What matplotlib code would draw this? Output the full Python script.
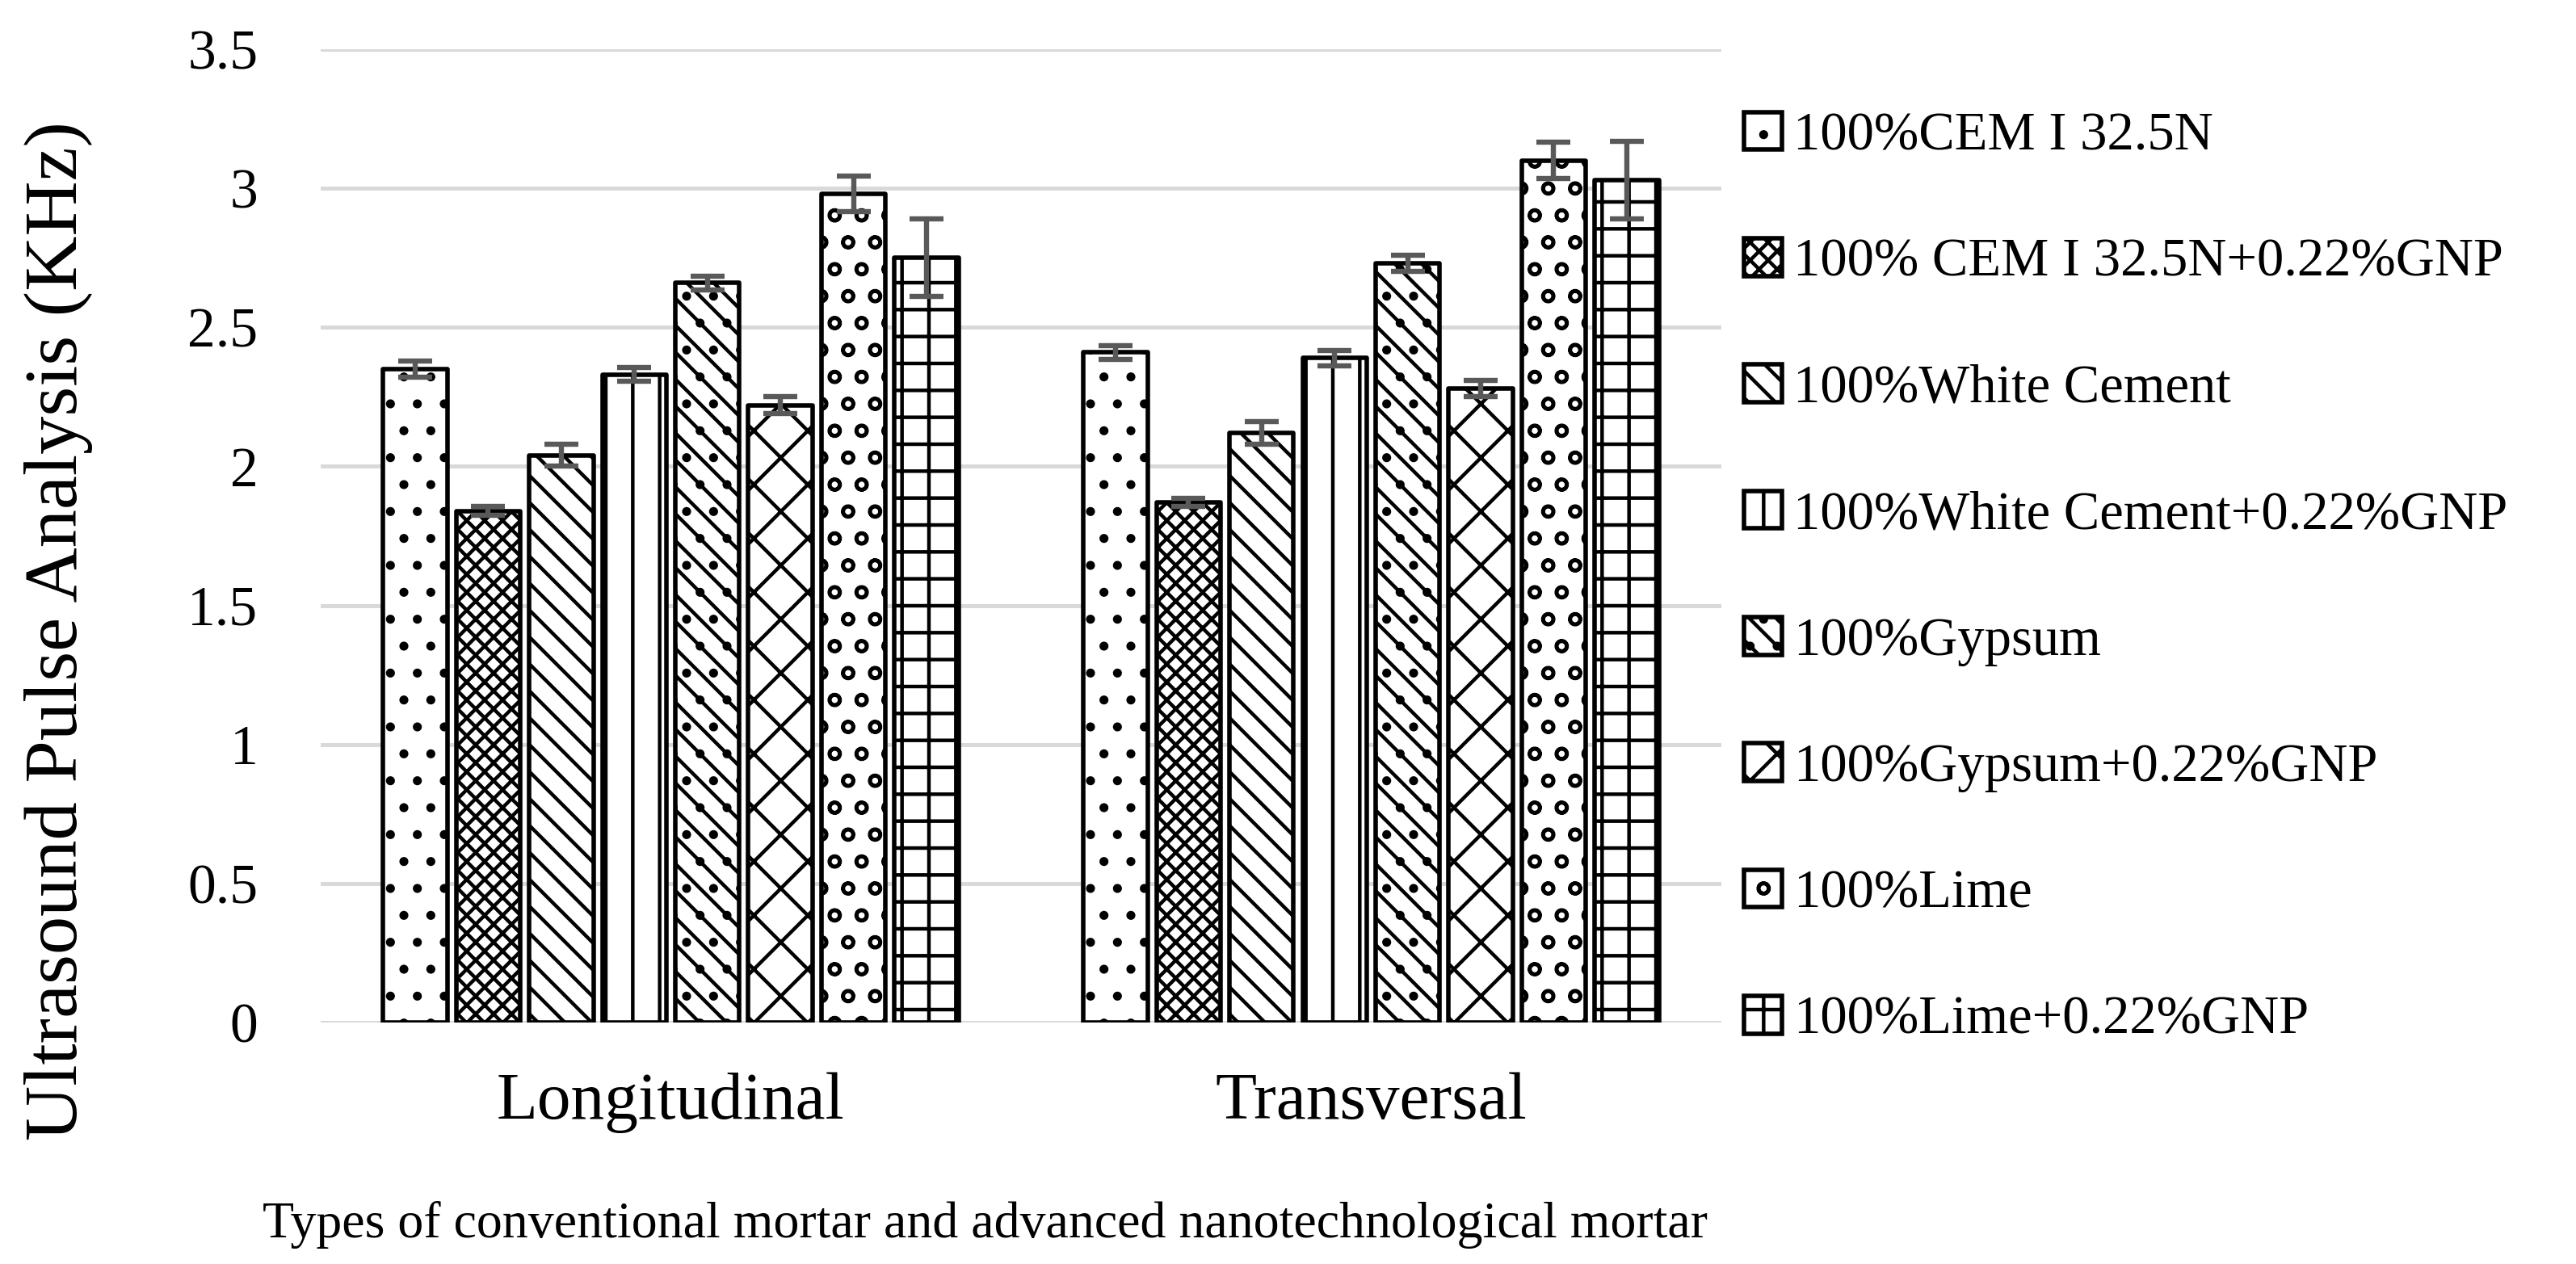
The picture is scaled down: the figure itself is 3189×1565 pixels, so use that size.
import matplotlib
matplotlib.use("Agg")
import matplotlib.pyplot as plt
import numpy as np

# categories and series
categories = ["Longitudinal", "Transversal"]
series = ["100%CEM I 32.5N", "100% CEM I 32.5N+0.22%GNP", "100%White Cement",
          "100%White Cement+0.22%GNP", "100%Gypsum", "100%Gypsum+0.22%GNP",
          "100%Lime", "100%Lime+0.22%GNP"]

# values (KHz), one list per category
longitudinal = [2.35, 1.84, 2.04, 2.33, 2.66, 2.22, 2.98, 2.75]
transversal = [2.41, 1.87, 2.12, 2.39, 2.73, 2.28, 3.10, 3.03]
longitudinal_err = [0.03, 0.015, 0.04, 0.025, 0.025, 0.03, 0.065, 0.14]
transversal_err = [0.025, 0.015, 0.04, 0.028, 0.03, 0.03, 0.065, 0.14]

y_ticks = [0, 0.5, 1, 1.5, 2, 2.5, 3, 3.5]
y_tick_labels = ["0", "0.5", "1", "1.5", "2", "2.5", "3", "3.5"]

hatches = [".", "xxx", "\\\\", "|", "\\\\.", "x", "o", "+"]

plt.rcParams["font.family"] = ["Liberation Serif", "DejaVu Serif"]
plt.rcParams["hatch.linewidth"] = 1.6

fig = plt.figure(figsize=(15.945, 7.825), dpi=200)
ax = fig.add_axes([0.1245, 0.191, 0.5437, 0.770])

x = np.arange(len(categories))
slot = 0.1043
width = 0.0916
bars = []
for i, name in enumerate(series):
    vals = [longitudinal[i], transversal[i]]
    errs = [longitudinal_err[i], transversal_err[i]]
    b = ax.bar(x + (i - 3.5) * slot, vals, width, yerr=errs, label=name,
               color="white", edgecolor="black", linewidth=2.0, hatch=hatches[i],
               joinstyle="round", zorder=3,
               error_kw=dict(ecolor="#595959", elinewidth=2.3, capsize=7.5, capthick=2.3, zorder=4))
    bars.append(b)

ax.set_xlim(-0.5, 1.5)
ax.set_ylim(0, 3.5)
ax.set_yticks(y_ticks)
ax.set_yticklabels(y_tick_labels, fontsize=25)
ax.set_xticks(x)
ax.set_xticklabels(categories, fontsize=30)
ax.tick_params(axis="y", length=0, pad=28)
ax.tick_params(axis="x", length=0, pad=22)
ax.grid(axis="y", color="#d9d9d9", linewidth=1.8, zorder=0)
ax.set_axisbelow(True)
for s in ax.spines.values():
    s.set_visible(False)

fig.text(0.0226, 0.501, "Ultrasound Pulse Analysis (KHz)", rotation=90,
         ha="center", va="center", fontsize=34)
fig.text(0.3825, 0.021, "Types of conventional mortar and advanced nanotechnological mortar",
         ha="center", va="baseline", fontsize=23)

ax.legend(handles=bars, loc="center left", bbox_to_anchor=(0.677, 0.5425),
          bbox_transform=fig.transFigure, frameon=False, borderpad=0, borderaxespad=0,
          handlelength=0.7, handleheight=0.7, handletextpad=0.22, labelspacing=1.43,
          fontsize=24)

fig.savefig("out.png", dpi=200)
